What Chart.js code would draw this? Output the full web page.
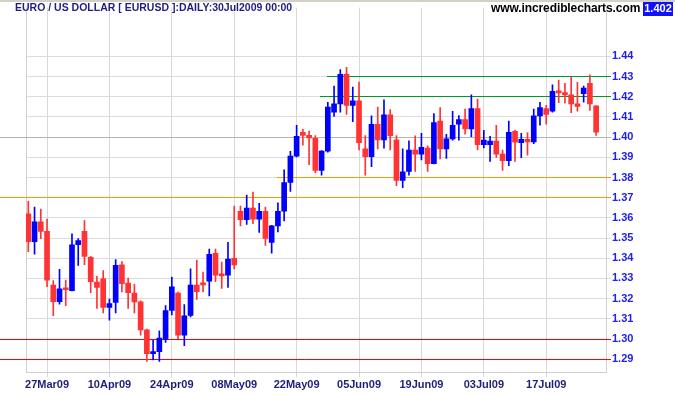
<!DOCTYPE html>
<html>
<head>
<meta charset="utf-8">
<script src="https://cdn.jsdelivr.net/npm/chart.js@4/dist/chart.umd.min.js"></script>
<style>
  html, body { margin: 0; padding: 0; background: #ffffff; }
  #wrap { position: relative; width: 675px; height: 395px; overflow: hidden; }
  #topline { position: absolute; left: 0; top: 0; width: 675px; height: 2px; background: #d4d0c8; }
  #title { position: absolute; left: 15px; top: 1px; font: bold 10.5px "Liberation Sans", Arial, sans-serif; color: #1e1e80; white-space: nowrap; }
  #site { position: absolute; left: 491px; top: 1px; font: bold 12px "Liberation Sans", Arial, sans-serif; color: #000000; white-space: nowrap; letter-spacing: -0.1px; }
  #last { position: absolute; left: 643px; top: 2px; width: 30px; height: 14px; line-height: 14px; text-align: center; background: #1010ff; color: #ffffff; font: bold 11px "Liberation Sans", Arial, sans-serif; }
  canvas { position: absolute; left: 0; top: 0; }
</style>
</head>
<body>
<div id="wrap">
  <canvas id="c" width="675" height="395"></canvas>
  <div id="topline"></div>
  <div id="title">EURO / US DOLLAR [ EURUSD ]:DAILY:30Jul2009 00:00</div>
  <div id="site">www.incrediblecharts.com</div>
  <div id="last">1.402</div>
</div>
<script>
// ---- data (one entry per trading day, 24Mar09 .. 30Jul09) ----
const open = [1.3620,1.3482,1.3581,1.3533,1.3267,1.3185,1.3246,1.3240,1.3467,1.3533,
              1.3404,1.3282,1.3298,1.3157,1.3181,1.3368,1.3277,1.3228,1.3184,1.3046,
              1.2928,1.2937,1.2998,1.3141,1.3227,1.3019,1.3117,1.3267,1.3271,1.3287,
              1.3424,1.3316,1.3316,1.3399,1.3633,1.3591,1.3648,1.3594,1.3633,1.3479,
              1.3560,1.3633,1.3775,1.3906,1.4024,1.4009,1.3994,1.3835,1.3931,1.4123,
              1.4165,1.4311,1.4157,1.4180,1.3942,1.3903,1.4063,1.3986,1.4111,1.3986,
              1.3786,1.3830,1.3936,1.3916,1.3946,1.3869,1.4079,1.3942,1.3991,1.4064,
              1.4087,1.4040,1.4141,1.3962,1.3962,1.3980,1.3916,1.3883,1.4029,1.3972,
              1.3989,1.3976,1.4105,1.4141,1.4129,1.4228,1.4220,1.4209,1.4165,1.4215,
              1.4267,1.4155];
const high = [1.3682,1.3653,1.3643,1.3594,1.3290,1.3345,1.3292,1.3521,1.3498,1.3586,
              1.3409,1.3311,1.3339,1.3198,1.3394,1.3383,1.3302,1.3271,1.3189,1.3049,
              1.2994,1.3040,1.3165,1.3307,1.3233,1.3170,1.3347,1.3391,1.3331,1.3445,
              1.3445,1.3381,1.3479,1.3658,1.3658,1.3713,1.3728,1.3672,1.3654,1.3563,
              1.3674,1.3838,1.3929,1.4058,1.4038,1.4030,1.4007,1.3933,1.4172,1.4253,
              1.4334,1.4346,1.4248,1.4272,1.4007,1.4105,1.4149,1.4185,1.4136,1.4007,
              1.3942,1.3981,1.4006,1.4019,1.3957,1.4116,1.4146,1.4014,1.4128,1.4107,
              1.4139,1.4209,1.4189,1.4033,1.4004,1.4058,1.3936,1.4079,1.4035,1.4019,
              1.4022,1.4139,1.4172,1.4157,1.4259,1.4282,1.4266,1.4298,1.4271,1.4253,
              1.4308,1.4155];
const low  = [1.3433,1.3420,1.3497,1.3259,1.3116,1.3173,1.3165,1.3238,1.3365,1.3368,
              1.3230,1.3152,1.3129,1.3093,1.3129,1.3233,1.3152,1.3129,1.3019,1.2889,
              1.2897,1.2889,1.2983,1.3119,1.3002,1.2967,1.3110,1.3196,1.3233,1.3214,
              1.3284,1.3250,1.3255,1.3347,1.3560,1.3567,1.3571,1.3528,1.3463,1.3425,
              1.3531,1.3585,1.3731,1.3902,1.3960,1.3864,1.3824,1.3811,1.3926,1.4103,
              1.4124,1.4113,1.4076,1.3937,1.3811,1.3853,1.3942,1.3945,1.3937,1.3759,
              1.3750,1.3812,1.3830,1.3887,1.3830,1.3867,1.3892,1.3894,1.3985,1.3985,
              1.4014,1.4002,1.3937,1.3946,1.3879,1.3900,1.3835,1.3858,1.3879,1.3898,
              1.3911,1.3967,1.4059,1.4064,1.4124,1.4170,1.4168,1.4121,1.4129,1.4173,
              1.4132,1.4009];
const close = [1.3482,1.3581,1.3533,1.3292,1.3185,1.3248,1.3244,1.3467,1.3487,1.3409,
              1.3284,1.3255,1.3157,1.3175,1.3365,1.3274,1.3230,1.3184,1.3045,1.2928,
              1.2937,1.3004,1.3141,1.3258,1.3019,1.3115,1.3267,1.3235,1.3268,1.3419,
              1.3316,1.3313,1.3396,1.3367,1.3591,1.3648,1.3594,1.3633,1.3498,1.3560,
              1.3633,1.3775,1.3906,1.4004,1.4009,1.3996,1.3835,1.3931,1.4149,1.4165,
              1.4311,1.4157,1.4180,1.3972,1.3903,1.4063,1.3986,1.4111,1.4007,1.3786,
              1.3828,1.3936,1.3916,1.3950,1.3869,1.4072,1.3942,1.3991,1.4058,1.4087,
              1.4040,1.4141,1.3962,1.3985,1.3980,1.3916,1.3883,1.4024,1.3975,1.3989,
              1.3976,1.4105,1.4146,1.4113,1.4227,1.4219,1.4209,1.4165,1.4152,1.4243,
              1.4165,1.4025];

// x-axis date labels and the bar index they sit on
const dateLabels = ['27Mar09','10Apr09','24Apr09','08May09','22May09','05Jun09','19Jun09','03Jul09','17Jul09'];
const dateIndex  = [3,13,23,33,43,53,63,73,83];

// y-axis tick values
const yTicks = [1.29,1.30,1.31,1.32,1.33,1.34,1.35,1.36,1.37,1.38,1.39,1.40,1.41,1.42,1.43,1.44];

// horizontal support / resistance levels (value, first bar; null = whole width)
const levelValues = [1.43, 1.42, 1.40, 1.38, 1.37, 1.30, 1.29];
const levelStart  = [47.9, 46.8, null, 39.85, null, null, null];

// ---- styles ----
const UP = '#0000ff', DOWN = '#ff3333';
const levelColors = ['#009922','#009922','#b4b4b4','#ff9900','#ff9900','#ff0000','#ff0000'];
const candleColor = close.map((c, i) => c >= open[i] ? UP : DOWN);

const wickData = close.map((c, i) => ({ x: i, y: [low[i], high[i]] }));
const bodyData = close.map((c, i) => ({ x: i, y: [Math.min(open[i], c), Math.max(open[i], c)] }));

// same pixel alignment Chart.js uses for its 1px grid lines
const align1 = (p) => Math.round(p - 0.5) + 0.5;

const levelPlugin = {
  id: 'levels',
  beforeDatasetsDraw(chart) {
    const { ctx, chartArea, scales } = chart;
    const xs = scales.x, ys = scales.y;
    ctx.save();
    ctx.lineWidth = 1;
    ctx.strokeStyle = '#d0d0d0';
    ctx.beginPath();
    ctx.moveTo(align1(chartArea.left), chartArea.top);
    ctx.lineTo(align1(chartArea.left), chartArea.bottom);
    ctx.stroke();
    levelValues.forEach((v, i) => {
      const py = align1(ys.getPixelForValue(v));
      const x0 = levelStart[i] == null ? 0 : Math.round(xs.getPixelForValue(levelStart[i]));
      ctx.strokeStyle = levelColors[i];
      ctx.beginPath();
      ctx.moveTo(x0, py);
      ctx.lineTo(Math.round(chartArea.right) + 5, py);
      ctx.stroke();
    });
    ctx.restore();
  }
};

new Chart(document.getElementById('c'), {
  type: 'bar',
  data: {
    datasets: [
      { label: 'body', data: bodyData, backgroundColor: candleColor, barThickness: 5, minBarLength: 2, grouped: false },
      { label: 'wick', data: wickData, backgroundColor: candleColor, barThickness: 1, grouped: false }
    ]
  },
  options: {
    responsive: false,
    animation: false,
    devicePixelRatio: 1,
    layout: { padding: { left: 26, top: 2, right: 0, bottom: 0 } },
    plugins: { legend: { display: false }, tooltip: { enabled: false } },
    scales: {
      x: {
        type: 'linear',
        offset: false,
        min: -0.37,
        max: 92.58,
        afterBuildTicks: (s) => { s.ticks = dateIndex.map(v => ({ value: v })); },
        afterFit: (s) => { s.height = 23; },
        grid: { offset: false, color: '#d8d8d8', lineWidth: 1, tickLength: 5, drawTicks: true },
        border: { display: true, color: '#d0d0d0' },
        ticks: {
          autoSkip: false, maxRotation: 0, padding: 1,
          color: '#1e1e78',
          font: { family: '"Liberation Sans", Arial, sans-serif', size: 11, weight: 'bold' },
          callback: (v) => { const k = dateIndex.indexOf(v); return k >= 0 ? dateLabels[k] : ''; }
        }
      },
      y: {
        position: 'right',
        min: 1.28366,
        max: 1.46415,
        afterBuildTicks: (s) => { s.ticks = yTicks.map(v => ({ value: v })); },
        afterFit: (s) => { s.width = 69; },
        grid: { color: '#dcdcdc', lineWidth: 1, tickLength: 5, drawTicks: true },
        border: { display: true, color: '#d0d0d0' },
        ticks: {
          padding: 1,
          color: '#2020e8',
          font: { family: '"Liberation Sans", Arial, sans-serif', size: 11, weight: 'bold' },
          callback: (v) => Number(v).toFixed(2)
        }
      }
    }
  },
  plugins: [levelPlugin]
});
</script>
</body>
</html>
